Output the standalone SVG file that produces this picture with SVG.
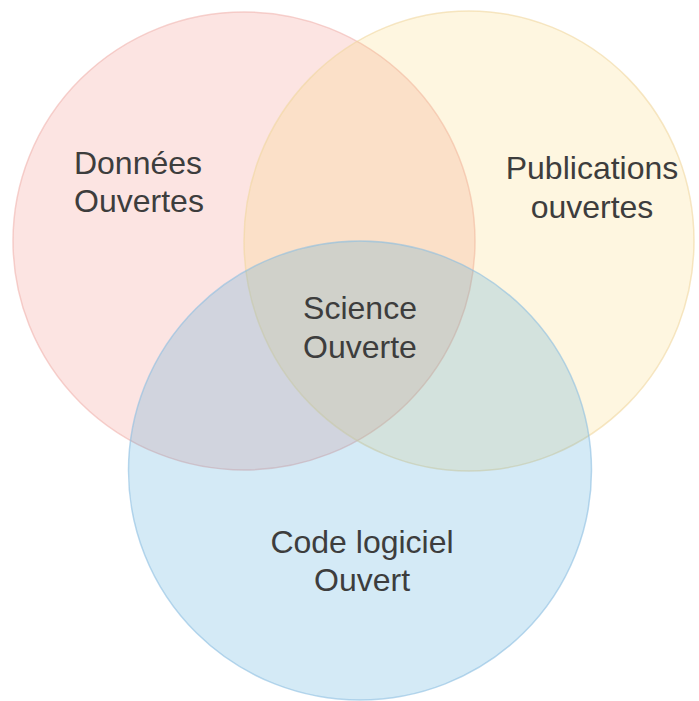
<svg xmlns="http://www.w3.org/2000/svg" width="699" height="701" viewBox="0 0 699 701">
<style>
.lbl{font-family:"Liberation Sans",Arial,sans-serif;font-size:32px;fill:#3d3d3d;text-anchor:middle}
</style>
<rect width="699" height="701" fill="#ffffff"/>
<g id="donnees">
<ellipse cx="244" cy="241" rx="231" ry="229" fill="rgb(240,120,110)" fill-opacity="0.2" stroke="rgb(240,180,175)" stroke-opacity="0.6" stroke-width="1.5"/>
</g>
<g id="publications">
<ellipse cx="469" cy="241" rx="225" ry="230" fill="rgb(250,210,100)" fill-opacity="0.2" stroke="rgb(240,215,160)" stroke-opacity="0.6" stroke-width="1.5"/>
</g>
<g id="code">
<ellipse cx="360" cy="470.5" rx="231.5" ry="229.5" fill="rgb(40,150,210)" fill-opacity="0.2" stroke="rgb(140,190,225)" stroke-opacity="0.6" stroke-width="1.5"/>
</g>
<g id="connectors"></g>
<g id="labels">
<text class="lbl" x="138" y="174">Données</text>
<text class="lbl" x="139" y="212">Ouvertes</text>
<text class="lbl" x="592" y="179">Publications</text>
<text class="lbl" x="592" y="218">ouvertes</text>
<text class="lbl" x="360" y="319">Science</text>
<text class="lbl" x="360" y="358">Ouverte</text>
<text class="lbl" x="362" y="553">Code logiciel</text>
<text class="lbl" x="362" y="591">Ouvert</text>
</g>
</svg>
